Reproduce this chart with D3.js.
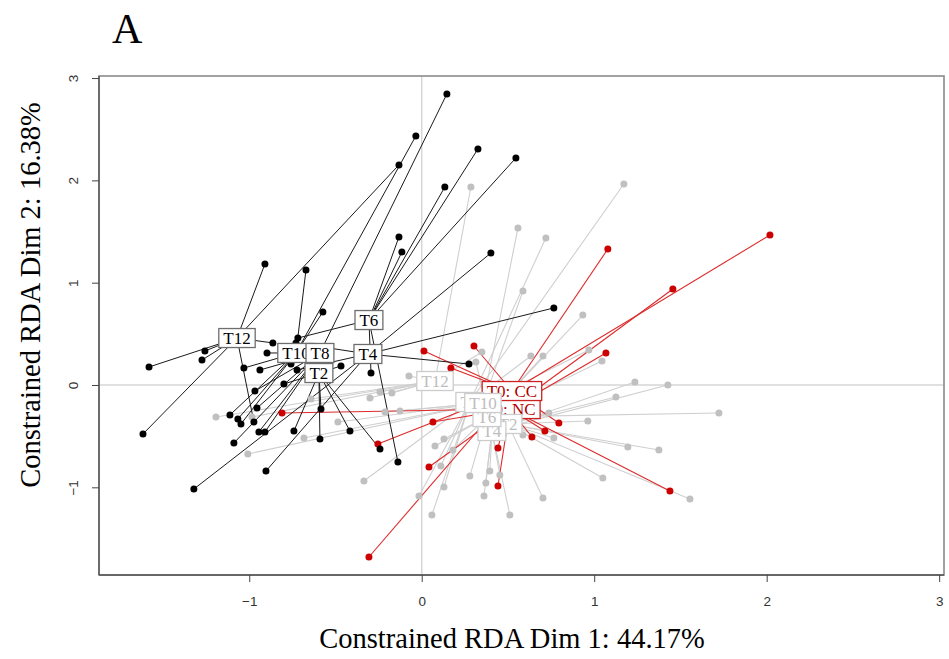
<!DOCTYPE html>
<html><head><meta charset="utf-8">
<script src="https://cdn.jsdelivr.net/npm/d3@7"></script>
<style>body{margin:0;background:#fff;} svg{display:block;}</style>
</head><body>
<svg id="chart" width="949" height="659"></svg>
<script>
// ---------- data (RDA site scores and group centroids) ----------
const xTicks = [-1, 0, 1, 2, 3];
const yTicks = [-1, 0, 1, 2, 3];
const xTitle = "Constrained RDA Dim 1: 44.17%";
const yTitle = "Constrained RDA Dim 2: 16.38%";
const panelTitle = "A";

// black group
const blackLabels = ["T12", "T10", "T8", "T6", "T4", "T2"];
const blackCentroids = [[-1.071, 0.459], [-0.729, 0.313], [-0.590, 0.313], [-0.306, 0.635], [-0.312, 0.303], [-0.596, 0.117]];
const blackPoints = [
  [[-0.132, 2.151], [-0.909, 1.183], [-0.863, 0.411], [-1.257, 0.332], [-1.274, 0.244], [-1.581, 0.176], [-1.616, -0.479], [-0.973, -0.362]],
  [[-0.034, 2.434], [-0.671, 1.124], [-0.573, 0.714], [-0.897, 0.313], [-1.031, 0.166], [-1.112, -0.293], [-1.066, -0.332], [-1.048, -0.381]],
  [[0.146, 2.845], [-0.938, 0.147], [-0.758, 0.205], [-0.967, -0.059], [-0.955, -0.225], [-0.944, -0.459], [-0.909, -0.459], [-1.089, -0.567]],
  [[0.326, 2.307], [0.546, 2.219], [0.134, 1.935], [-0.132, 1.447], [-0.115, 1.300], [-0.718, 0.459], [-0.294, 0.117], [-0.138, -0.753]],
  [[0.401, 1.290], [0.766, 0.753], [0.274, 0.205], [-0.729, 0.411], [-0.723, 0.147], [-0.903, -0.841], [-1.321, -1.017]],
  [[-0.468, 0.186], [-0.799, 0.010], [-0.584, -0.235], [-0.590, -0.528], [-0.416, -0.450], [-0.242, -0.626], [-0.741, -0.450]]
];

// grey group
const greyLabels = ["T12", "T10", "T8", "T6", "T4", "T2"];
const greyCentroids = [[0.077, 0.039], [0.355, -0.176], [0.279, -0.166], [0.378, -0.313], [0.407, -0.450], [0.500, -0.381]];
const greyPoints = [
  [[-1.193, -0.313], [-0.984, -0.313], [-0.642, -0.137], [-0.300, -0.127], [-0.242, -0.068], [-0.074, 0.088], [-0.173, -0.078], [0.285, 1.935], [0.349, 0.323]],
  [[-1.008, -0.674], [-0.683, -0.518], [-0.486, -0.362], [-0.126, -0.254], [-0.213, -0.264], [0.558, 1.535], [0.587, 0.919], [0.969, 0.342]],
  [[-0.335, -0.938], [-0.016, -1.085], [0.059, -1.271], [0.111, -0.792], [0.129, -0.997], [0.720, 1.437], [1.172, 1.965], [0.633, 0.283]],
  [[0.077, -0.596], [0.129, -0.528], [0.181, -0.635], [0.279, -0.890], [0.934, 0.684], [0.703, 0.283], [1.045, 0.235], [1.723, -0.274]],
  [[0.361, -1.085], [0.372, -0.958], [0.395, -0.841], [0.453, -0.880], [0.511, -1.271], [0.314, 0.225], [1.236, 0.029], [1.427, 0.000]],
  [[0.703, -1.105], [1.050, -0.909], [1.555, -1.114], [1.195, -0.606], [1.375, -0.635], [0.766, -0.518], [0.587, -0.489], [0.737, -0.274], [0.963, -0.352], [1.126, -0.117]]
];

// red group (T0)
const redLabels = ["T0: CC", "T0: NC"];
const redCentroids = [[0.523, -0.059], [0.511, -0.235]];
const redPoints = [
  [[2.019, 1.466], [1.079, 1.329], [0.169, 0.166], [0.013, 0.332], [0.303, 0.381], [0.795, -0.371], [0.442, -0.616], [-0.306, -1.681], [-0.254, -0.577]],
  [[1.456, 0.938], [1.068, 0.313], [0.065, -0.362], [0.714, -0.450], [0.639, -0.508], [0.042, -0.802], [0.442, -0.987], [1.439, -1.036], [-0.810, -0.274]]
];

// ---------- drawing ----------
const svg = d3.select("#chart");
const L = 99, R = 944, T = 76, B = 575;
const x = d3.scaleLinear().domain([-1.871, 3.028]).range([L, R]);
const y = d3.scaleLinear().domain([-1.857, 3.020]).range([B, T]);

// panel letter
svg.append("text").attr("x", 112).attr("y", 43)
  .attr("font-family", "Liberation Serif, Times New Roman, serif")
  .attr("font-size", 42).attr("fill", "#000").text(panelTitle);

// zero lines
svg.append("line").attr("x1", L).attr("x2", R).attr("y1", y(0)).attr("y2", y(0))
  .attr("stroke", "#d6d6d6").attr("stroke-width", 1.5);
svg.append("line").attr("y1", T).attr("y2", B).attr("x1", x(0)).attr("x2", x(0))
  .attr("stroke", "#d6d6d6").attr("stroke-width", 1.5);

const plot = svg.append("g");

function spider(centroids, points, color, width) {
  const g = plot.append("g").attr("stroke", color).attr("stroke-width", width);
  points.forEach((pts, i) => {
    const c = centroids[i];
    g.selectAll(null).data(pts).enter().append("line")
      .attr("x1", x(c[0])).attr("y1", y(c[1]))
      .attr("x2", d => x(d[0])).attr("y2", d => y(d[1]));
  });
}
function dots(points, color) {
  const g = plot.append("g").attr("fill", color);
  g.selectAll("circle").data(points.flat()).enter().append("circle")
    .attr("cx", d => x(d[0])).attr("cy", d => y(d[1])).attr("r", 3.5);
}

spider(greyCentroids, greyPoints, "#cfcfcf", 1.1);
spider(redCentroids, redPoints, "#dd2a2a", 1.1);
spider(blackCentroids, blackPoints, "#1a1a1a", 1.0);
dots(greyPoints, "#c0c0c0");
dots(redPoints, "#cc0000");
dots(blackPoints, "#000000");

function labels(centroids, names, border, textColor, order) {
  const g = plot.append("g");
  order.forEach(i => {
    const c = centroids[i];
    const cx = x(c[0]), cy = y(c[1]);
    const lg = g.append("g");
    const rect = lg.append("rect");
    const t = lg.append("text").attr("x", cx).attr("y", cy + 5.8)
      .attr("text-anchor", "middle")
      .attr("font-family", "Liberation Serif, Times New Roman, serif")
      .attr("font-size", 17).attr("fill", textColor).text(names[i]);
    const w = t.node().getComputedTextLength();
    rect.attr("x", cx - w / 2 - 4.5).attr("y", cy - 9.5).attr("width", w + 9).attr("height", 19)
      .attr("fill", "#ffffff").attr("stroke", border).attr("stroke-width", 1.3);
  });
}
labels(blackCentroids, blackLabels, "#6e6e6e", "#000000", [0, 1, 2, 3, 4, 5]);
labels(redCentroids, redLabels, "#cc2222", "#b30000", [1, 0]);
labels(greyCentroids, greyLabels, "#cccccc", "#bdbdbd", [5, 4, 3, 0, 2, 1]);

// box
svg.append("rect").attr("x", L).attr("y", T).attr("width", R - L).attr("height", B - T)
  .attr("fill", "none").attr("stroke", "#8a8a8a").attr("stroke-width", 1.6);
svg.append("line").attr("x1", L).attr("x2", R).attr("y1", B).attr("y2", B).attr("stroke", "#555").attr("stroke-width", 1.4);
svg.append("line").attr("x1", L).attr("x2", L).attr("y1", T).attr("y2", B).attr("stroke", "#555").attr("stroke-width", 1.4);

// axes
const xAxis = svg.append("g").attr("transform", `translate(0,${B})`)
  .call(d3.axisBottom(x).tickValues(xTicks).tickSize(7).tickPadding(14).tickFormat(d3.format("d")));
xAxis.select(".domain").remove();
xAxis.selectAll("line").attr("stroke", "#444");
xAxis.selectAll("text").attr("font-family", "Liberation Sans, Arial, sans-serif").attr("font-size", 13.5).attr("fill", "#333");

const yAxis = svg.append("g").attr("transform", `translate(${L},0)`)
  .call(d3.axisLeft(y).tickValues(yTicks).tickSize(7).tickFormat(d3.format("d")));
yAxis.select(".domain").remove();
yAxis.selectAll("line").attr("stroke", "#444");
yAxis.selectAll("text")
  .attr("font-family", "Liberation Sans, Arial, sans-serif").attr("font-size", 13.5).attr("fill", "#333")
  .attr("text-anchor", "middle").attr("x", null)
  .attr("transform", "translate(-26,0) rotate(-90)")
  .attr("dy", "0.35em");

// titles
svg.append("text").attr("x", 512).attr("y", 648).attr("text-anchor", "middle")
  .attr("font-family", "Liberation Serif, Times New Roman, serif").attr("font-size", 28.5)
  .attr("fill", "#000").text(xTitle);
svg.append("text").attr("transform", "translate(40,295) rotate(-90)").attr("text-anchor", "middle")
  .attr("font-family", "Liberation Serif, Times New Roman, serif").attr("font-size", 28.5)
  .attr("fill", "#000").text(yTitle);
</script>
</body></html>
